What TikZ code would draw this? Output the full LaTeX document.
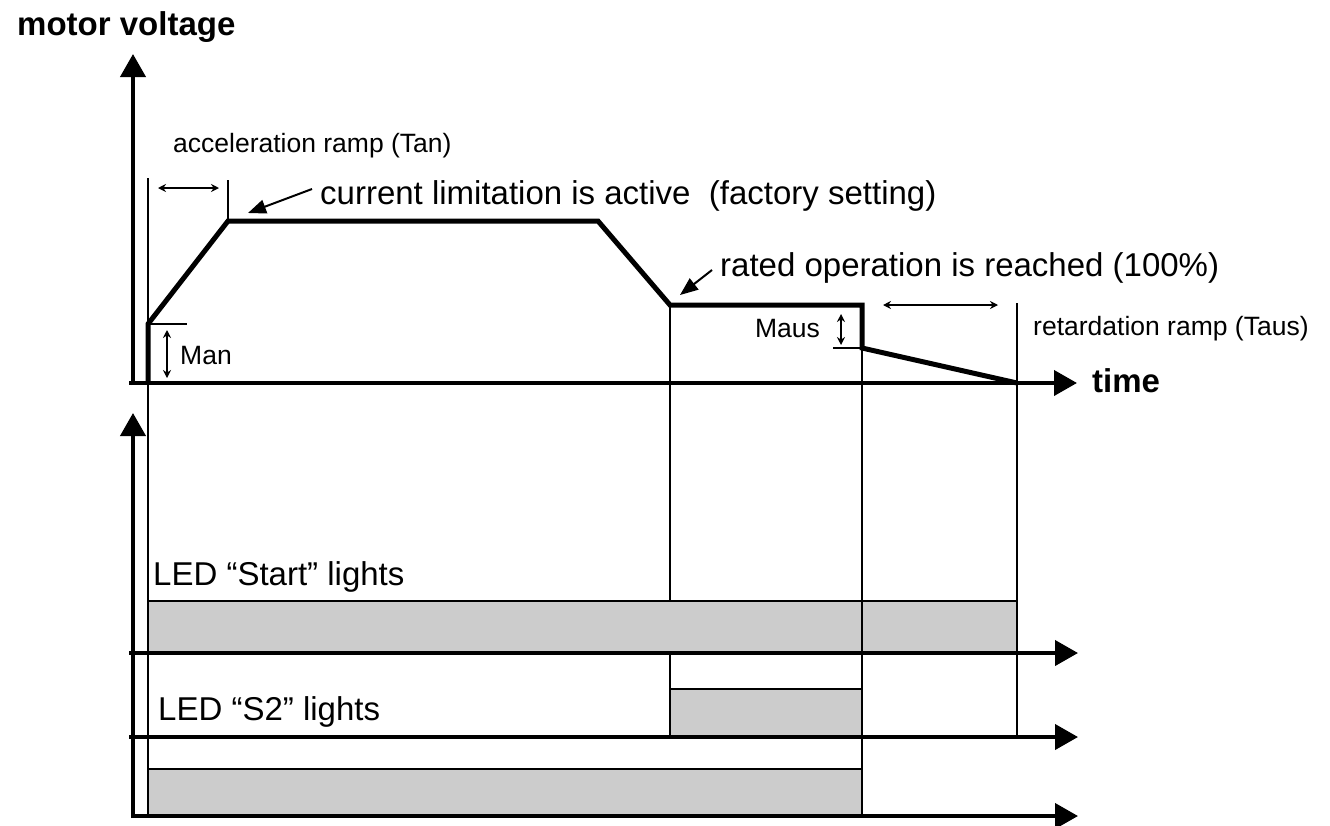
\documentclass[tikz,border=0pt]{standalone}
\usepackage{fontspec}
\setmainfont{Liberation Sans}
\usetikzlibrary{arrows.meta}
\definecolor{barGray}{HTML}{CCCCCC}
\begin{document}
\begin{tikzpicture}[x=1pt,y=-1pt,
  axis/.style={line width=4pt,-{Triangle[length=23pt,width=25pt]}},
  profile/.style={line width=5pt,line join=miter},
  thinline/.style={line width=1.5pt},
  dimarrow/.style={line width=1.3pt,{Stealth[length=8pt,width=8pt]}-{Stealth[length=8pt,width=8pt]}},
  callout/.style={line width=2pt,-{Triangle[length=18pt,width=14pt]}},
  smalltext/.style={font=\fontsize{26.5}{30}\selectfont,inner sep=0pt,anchor=base west},
  bigtext/.style={font=\fontsize{33}{38}\selectfont,inner sep=0pt,anchor=base west},
  headtext/.style={font=\fontsize{33}{38}\selectfont\bfseries,inner sep=0pt,anchor=base west}]
\useasboundingbox (0,0) rectangle (1330,825);

% time markers
\coordinate (t0top) at (148,178);  \coordinate (t0bot) at (148,816);
\coordinate (t1top) at (228,180);  \coordinate (t1bot) at (228,221);
\coordinate (t2top) at (670,305);  \coordinate (t2bot) at (670,737);
\coordinate (t3top) at (862,305);  \coordinate (t3bot) at (862,816);
\coordinate (t4top) at (1017,303); \coordinate (t4bot) at (1017,737);

% the S2 marker lies behind the LED "Start" bar
\draw[thinline] (t2top) -- (t2bot);

% LED bars
\fill[barGray] (148,601) rectangle (1017,653);
\draw[thinline] (148,601) -- (1017,601);
\fill[barGray] (670,689) rectangle (862,737);
\draw[thinline] (670,689) -- (862,689);
\draw[line width=2.5pt] (670,689) -- (670,737);
\fill[barGray] (148,769) rectangle (862,816);
\draw[thinline] (148,769) -- (862,769);

\foreach \m in {t0,t1,t3,t4} \draw[thinline] (\m top) -- (\m bot);

% axes
\coordinate (vA0) at (133,385); \coordinate (vA1) at (133,54);
\coordinate (hA0) at (129,383); \coordinate (hA1) at (1077,383);
\coordinate (vB0) at (133,818); \coordinate (vB1) at (133,413);
\coordinate (h10) at (129,653); \coordinate (h11) at (1078,653);
\coordinate (h20) at (129,737); \coordinate (h21) at (1078,737);
\coordinate (h30) at (131,816); \coordinate (h31) at (1078,816);
\draw[axis] (vA0) -- (vA1);
\draw[axis] (hA0) -- (hA1);
\draw[axis] (vB0) -- (vB1);
\draw[axis] (h10) -- (h11);
\draw[axis] (h20) -- (h21);
\draw[axis] (h30) -- (h31);

% motor voltage profile
\coordinate (p0) at (148,383);
\coordinate (p1) at (148,324);
\coordinate (p2) at (228,221);
\coordinate (p3) at (598,221);
\coordinate (p4) at (670,305);
\coordinate (p5) at (862,305);
\coordinate (p6) at (862,348);
\coordinate (p7) at (1017,383);
\draw[profile] (p0) -- (p1) -- (p2) -- (p3) -- (p4) -- (p5) -- (p6) -- (p7);

% start voltage Man
\coordinate (man1) at (187,324);
\draw[thinline] (p1) -- (man1);
\coordinate (manA) at (167,330); \coordinate (manB) at (167,378);
\draw[dimarrow] (manA) -- (manB);
\node[smalltext] (man) at (180,364) {Man};

% stop voltage Maus
\coordinate (maus1) at (833,348);
\draw[thinline] (maus1) -- (p6);
\coordinate (mausA) at (841,314); \coordinate (mausB) at (841,345);
\draw[dimarrow] (mausA) -- (mausB);
\node[smalltext,anchor=base east] (maus) at (820,337) {Maus};

% ramp durations
\coordinate (accA) at (158,188); \coordinate (accB) at (219,188);
\draw[dimarrow] (accA) -- (accB);
\coordinate (retA) at (883,305); \coordinate (retB) at (998,305);
\draw[dimarrow] (retA) -- (retB);

% labels
\node[headtext] (ylabel) at (17,35) {motor voltage};
\node[headtext] (xlabel) at (1092,392) {time};
\node[smalltext] (acc) at (173,152) {acceleration ramp (Tan)};
\node[smalltext] (ret) at (1033,335) {retardation ramp (Taus)};
\node[bigtext] (cur) at (320,204) {current limitation is active \ (factory setting)};
\node[bigtext] (rated) at (720,276) {rated operation is reached (100\%)};
\node[bigtext] (ledstart) at (153,585) {LED “Start” lights};
\node[bigtext] (leds2) at (158,720) {LED “S2” lights};

% callouts
\coordinate (curTail) at (312,189); \coordinate (curTip) at (248,213);
\draw[callout] (curTail) -- (curTip);
\coordinate (ratTail) at (712,270); \coordinate (ratTip) at (680,295);
\draw[callout] (ratTail) -- (ratTip);
\end{tikzpicture}
\end{document}
